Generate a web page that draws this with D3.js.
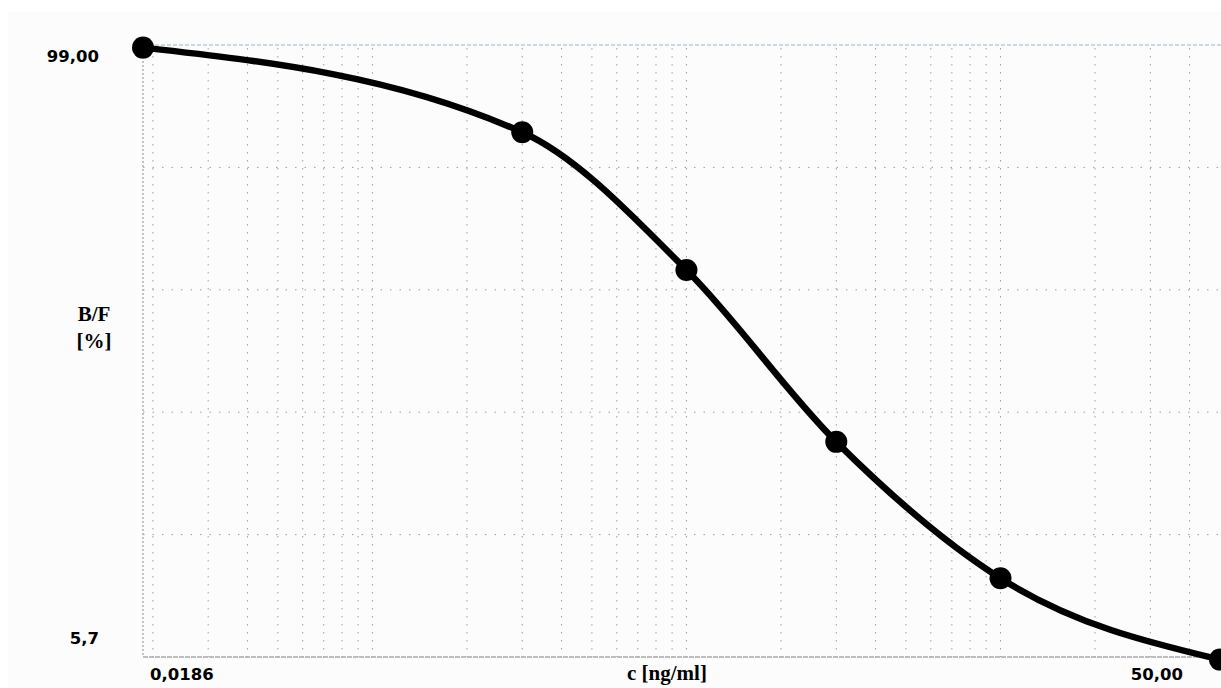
<!DOCTYPE html>
<html>
<head>
<meta charset="utf-8">
<script src="https://cdn.jsdelivr.net/npm/d3@7"></script>
<style>
  html, body { margin: 0; padding: 0; background: #ffffff; overflow: hidden; }
  svg { display: block; }
</style>
</head>
<body>
<svg id="chart" width="1221" height="688"></svg>
<script>
// ---- data ----
const concentrations = [0.0186, 0.3, 1, 3, 10, 50];
const bfValues = [98.6, 85.7, 64.7, 38.5, 17.7, 5.3];
const yTickLabels = ["99,00", "5,7"];
const yTickValues = [99, 5.7];
const xTickLabels = ["0,0186", "50,00"];
const xTickValues = [0.0186, 50];
const xTitle = "c [ng/ml]";
const yTitle = ["B/F", "[%]"];

(function () {
  // ---- layout ----
  const W = 1221, H = 688;
  const mLeft = 143, mRight = 1220, mTop = 45, mBottom = 657;

  const svg = d3.select("#chart");

  svg.append("rect").attr("x", 8).attr("y", 12).attr("width", W - 8).attr("height", H - 12)
    .attr("fill", "#fcfcfc");

  const x = d3.scaleLog().domain([xTickValues[0], xTickValues[1]]).range([mLeft, mRight]);
  const y = d3.scaleLinear().domain([yTickValues[1], yTickValues[0]]).range([mBottom, mTop]);

  // vertical grid (log minor grid)
  const xGrid = x.ticks().filter(v => v > xTickValues[0] * 1.001 && v < xTickValues[1] * 0.999);
  svg.append("g").selectAll("line").data(xGrid).join("line")
    .attr("x1", d => x(d)).attr("x2", d => x(d))
    .attr("y1", mTop + 3).attr("y2", mBottom)
    .attr("stroke", "#a0a0a0").attr("stroke-width", 1)
    .attr("stroke-dasharray", "1.5,6.5");

  // horizontal grid (equally spaced)
  const yGrid = d3.range(1, 5).map(i => yTickValues[1] + i * (yTickValues[0] - yTickValues[1]) / 5);
  svg.append("g").selectAll("line").data(yGrid).join("line")
    .attr("x1", mLeft).attr("x2", W)
    .attr("y1", d => y(d)).attr("y2", d => y(d))
    .attr("stroke", "#a0a0a0").attr("stroke-width", 1)
    .attr("stroke-dasharray", "1.5,8");

  // top border
  svg.append("line").attr("x1", mLeft).attr("x2", W).attr("y1", y(yTickValues[0])).attr("y2", y(yTickValues[0]))
    .attr("stroke", "#9fb0c0").attr("stroke-width", 1.2).attr("stroke-dasharray", "4,2");
  // left axis
  svg.append("line").attr("x1", mLeft).attr("x2", mLeft).attr("y1", mTop).attr("y2", mBottom)
    .attr("stroke", "#a0a0a0").attr("stroke-width", 1.2).attr("stroke-dasharray", "2,2");
  // bottom axis
  svg.append("line").attr("x1", mLeft).attr("x2", W).attr("y1", mBottom).attr("y2", mBottom)
    .attr("stroke", "#a8a8a8").attr("stroke-width", 1.4).attr("stroke-dasharray", "5,1");

  // curve
  const pts = concentrations.map((c, i) => [x(c), y(bfValues[i])]);
  svg.append("path")
    .attr("d", d3.line().curve(d3.curveMonotoneX)(pts))
    .attr("fill", "none").attr("stroke", "#000").attr("stroke-width", 6.5)
    .attr("stroke-linejoin", "round");

  svg.append("g").selectAll("circle").data(pts).join("circle")
    .attr("cx", d => d[0]).attr("cy", d => d[1]).attr("r", 11).attr("fill", "#000");

  const sans = "'DejaVu Sans', Verdana, sans-serif";
  const serif = "'Liberation Serif', 'Times New Roman', serif";

  // y tick labels
  svg.append("text").attr("x", 99).attr("y", 62).attr("text-anchor", "end")
    .attr("font-family", sans).attr("font-weight", "bold").attr("font-size", 16.5)
    .attr("fill", "#000").text(yTickLabels[0]);
  svg.append("text").attr("x", 99).attr("y", 644).attr("text-anchor", "end")
    .attr("font-family", sans).attr("font-weight", "bold").attr("font-size", 16.5)
    .attr("fill", "#000").text(yTickLabels[1]);

  // x tick labels
  svg.append("text").attr("x", 150).attr("y", 680).attr("text-anchor", "start")
    .attr("font-family", sans).attr("font-weight", "bold").attr("font-size", 16.5)
    .attr("fill", "#000").text(xTickLabels[0]);
  svg.append("text").attr("x", 1183).attr("y", 680).attr("text-anchor", "end")
    .attr("font-family", sans).attr("font-weight", "bold").attr("font-size", 16.5)
    .attr("fill", "#000").text(xTickLabels[1]);

  // titles
  svg.append("text").attr("x", 667).attr("y", 680).attr("text-anchor", "middle")
    .attr("font-family", serif).attr("font-weight", "bold").attr("font-size", 21)
    .attr("fill", "#000").text(xTitle);
  svg.append("text").attr("x", 94).attr("y", 321).attr("text-anchor", "middle")
    .attr("font-family", serif).attr("font-weight", "bold").attr("font-size", 21)
    .attr("fill", "#000").text(yTitle[0]);
  svg.append("text").attr("x", 94).attr("y", 348).attr("text-anchor", "middle")
    .attr("font-family", serif).attr("font-weight", "bold").attr("font-size", 21)
    .attr("fill", "#000").text(yTitle[1]);
})();
</script>
</body>
</html>
